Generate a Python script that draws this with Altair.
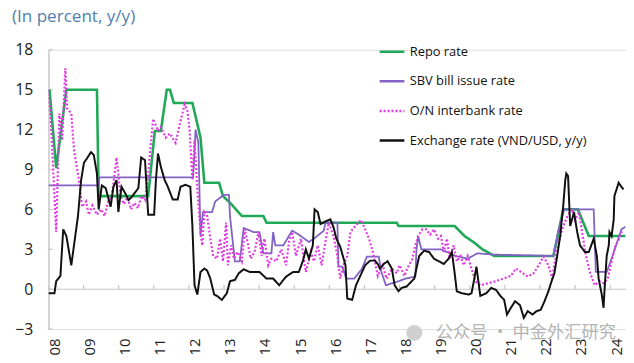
import altair as alt
import pandas as pd

series_names = ["Repo rate", "SBV bill issue rate", "O/N interbank rate", "Exchange rate (VND/USD, y/y)"]
series_colors = ["#1fa855", "#8262c2", "#e23ae2", "#111111"]
years = list(range(2008, 2025))
y_ticks = [-3, 0, 3, 6, 9, 12, 15, 18]

repo_t = [2008.03, 2008.22, 2008.51, 2009.38, 2009.43, 2010.84, 2011.03, 2011.20, 2011.37, 2011.46,
          2011.57, 2012.10, 2012.33, 2012.44, 2012.86, 2012.97, 2013.17, 2013.51, 2014.12, 2014.21,
          2017.92, 2017.97, 2019.57, 2019.85, 2020.13, 2020.36, 2020.70, 2022.38, 2022.49, 2022.66,
          2023.08, 2023.39, 2024.43]
repo_v = [15, 9.1, 15, 15, 7.0, 7.0, 11.9, 11.9, 15, 15,
          14, 14, 11.4, 8.0, 8.0, 7.0, 6.5, 5.5, 5.5, 5.0,
          5.0, 4.75, 4.75, 4.0, 3.5, 3.0, 2.5, 2.5, 3.8, 6.0,
          6.0, 4.0, 4.0]

sbv_t = [2008.00, 2009.43, 2009.45, 2012.12, 2012.19, 2012.27, 2012.33, 2012.40, 2012.66, 2012.75,
         2013.00, 2013.14, 2013.17, 2013.31, 2013.45, 2013.56, 2013.84, 2014.01, 2014.12, 2014.35,
         2014.40, 2014.46, 2014.69, 2014.94, 2015.13, 2015.42, 2015.56, 2015.84, 2015.89, 2016.23,
         2016.26, 2016.37, 2016.48, 2016.71, 2016.93, 2017.07, 2017.41, 2017.47, 2017.61, 2017.97,
         2018.17, 2018.45, 2018.48, 2018.53, 2018.62, 2019.18, 2019.60, 2019.94, 2020.22, 2020.70,
         2022.38, 2022.52, 2022.69, 2023.53, 2023.59, 2023.90, 2024.04, 2024.32, 2024.43]
sbv_v = [7.8, 7.8, 8.4, 8.4, 12.0, 11.0, 4.0, 5.8, 5.8, 6.6,
         7.1, 7.1, 5.5, 2.1, 2.1, 4.6, 4.3, 4.3, 2.7, 2.7,
         4.3, 3.3, 3.3, 4.4, 4.1, 3.55, 3.8, 4.4, 5.0, 5.0,
         1.7, 1.7, 0.8, 0.8, 1.55, 2.45, 2.45, 1.4, 0.3, 0.6,
         0.8, 0.95, 2.9, 4.0, 3.0, 3.0, 2.5, 2.3, 2.7, 2.6,
         2.5, 4.4, 6.0, 6.0, 1.3, 1.3, 2.3, 4.5, 4.7]

on_t = [2008.00, 2008.08, 2008.22, 2008.31, 2008.39, 2008.48, 2008.53, 2008.65, 2008.73, 2008.87,
        2008.96, 2009.07, 2009.15, 2009.25, 2009.38, 2009.50, 2009.60, 2009.70, 2009.80, 2009.94,
        2010.05, 2010.15, 2010.25, 2010.35, 2010.45, 2010.55, 2010.65, 2010.75, 2010.84, 2010.98,
        2011.12, 2011.20, 2011.34, 2011.46, 2011.62, 2011.74, 2011.88, 2011.96, 2012.02, 2012.10,
        2012.16, 2012.24, 2012.33, 2012.38, 2012.44, 2012.52, 2012.61, 2012.69, 2012.80, 2012.89,
        2012.97, 2013.06, 2013.11, 2013.20, 2013.28, 2013.39, 2013.51, 2013.59, 2013.67, 2013.76,
        2013.87, 2013.98, 2014.07, 2014.15, 2014.26, 2014.35, 2014.49, 2014.63, 2014.77, 2014.85,
        2014.94, 2015.05, 2015.19, 2015.33, 2015.47, 2015.56, 2015.67, 2015.78, 2015.98, 2016.12,
        2016.23, 2016.31, 2016.40, 2016.51, 2016.60, 2016.74, 2016.90, 2017.02, 2017.13, 2017.24,
        2017.38, 2017.52, 2017.63, 2017.78, 2017.92, 2018.00, 2018.14, 2018.22, 2018.37, 2018.45,
        2018.53, 2018.65, 2018.76, 2018.87, 2018.98, 2019.10, 2019.18, 2019.26, 2019.35, 2019.43,
        2019.54, 2019.63, 2019.74, 2019.83, 2019.94, 2020.05, 2020.16, 2020.30, 2020.53, 2020.75,
        2020.95, 2021.17, 2021.31, 2021.46, 2021.65, 2021.82, 2021.96, 2022.10, 2022.24, 2022.35,
        2022.41, 2022.52, 2022.63, 2022.78, 2022.92, 2023.00, 2023.11, 2023.20, 2023.31, 2023.42,
        2023.56, 2023.70, 2023.81, 2023.93, 2024.04, 2024.15, 2024.26, 2024.35]
on_v = [15, 12, 4.3, 13.2, 11.2, 16.6, 13.6, 13.2, 10.4, 8.2,
        6.2, 6.6, 5.6, 6.3, 5.6, 6.0, 5.5, 6.6, 6.9, 9.9,
        7.0, 6.4, 6.9, 6.0, 6.5, 6.1, 7.0, 6.7, 8.7, 12.8,
        11.9, 12.2, 11.4, 11.7, 11.0, 12.4, 13.9, 13.4, 11.9, 8.2,
        11.2, 7.5, 4.3, 3.3, 5.8, 5.5, 3.8, 2.5, 2.3, 3.8,
        2.1, 5.0, 1.8, 3.3, 2.3, 2.8, 2.1, 4.5, 3.55, 2.3,
        2.8, 4.3, 2.5, 3.8, 1.8, 2.3, 2.1, 3.0, 1.8, 3.55,
        4.3, 2.5, 3.8, 1.3, 2.8, 2.1, 3.3, 1.8, 5.0, 4.0,
        2.5, 0.8, 1.8, 2.5, 4.3, 4.75, 5.2, 4.5, 3.8, 2.8,
        1.0, 1.8, 0.8, 1.55, 1.2, 1.8, 1.0, 1.55, 2.3, 3.3,
        4.0, 4.5, 4.5, 4.1, 4.5, 3.8, 4.0, 2.8, 3.8, 2.3,
        3.3, 2.1, 2.5, 1.8, 2.5, 1.55, 0.6, 0.3, 0.45, 0.6,
        0.8, 1.0, 1.55, 1.3, 0.95, 1.2, 1.8, 2.45, 1.8, 0.8,
        1.9, 3.3, 4.5, 5.5, 6.0, 5.2, 5.8, 4.3, 2.5, 1.3,
        0.3, 0.6, 0.45, 0.8, 2.1, 3.3, 3.8, 4.5]

fx_t = [2008.00, 2008.17, 2008.22, 2008.34, 2008.42, 2008.51, 2008.65, 2008.84, 2008.93, 2009.01,
        2009.10, 2009.21, 2009.29, 2009.38, 2009.43, 2009.52, 2009.63, 2009.77, 2009.85, 2009.94,
        2009.99, 2010.08, 2010.19, 2010.28, 2010.36, 2010.56, 2010.64, 2010.75, 2010.84, 2011.01,
        2011.06, 2011.12, 2011.20, 2011.31, 2011.40, 2011.54, 2011.68, 2011.76, 2011.90, 2012.04,
        2012.10, 2012.16, 2012.24, 2012.33, 2012.44, 2012.52, 2012.61, 2012.72, 2012.80, 2012.94,
        2013.08, 2013.17, 2013.31, 2013.42, 2013.56, 2013.73, 2014.01, 2014.21, 2014.40, 2014.57,
        2014.77, 2014.97, 2015.13, 2015.25, 2015.33, 2015.42, 2015.53, 2015.58, 2015.67, 2015.75,
        2015.89, 2016.03, 2016.12, 2016.20, 2016.31, 2016.46, 2016.51, 2016.65, 2016.76, 2016.88,
        2017.02, 2017.16, 2017.30, 2017.38, 2017.44, 2017.55, 2017.66, 2017.78, 2017.86, 2017.97,
        2018.06, 2018.20, 2018.42, 2018.56, 2018.70, 2018.84, 2018.98, 2019.12, 2019.26, 2019.40,
        2019.49, 2019.57, 2019.63, 2019.77, 2019.97, 2020.05, 2020.13, 2020.19, 2020.30, 2020.47,
        2020.61, 2020.75, 2020.87, 2020.98, 2021.06, 2021.17, 2021.29, 2021.43, 2021.54, 2021.65,
        2021.79, 2021.90, 2022.02, 2022.13, 2022.24, 2022.33, 2022.41, 2022.49, 2022.58, 2022.66,
        2022.72, 2022.75, 2022.80, 2022.86, 2022.97, 2023.06, 2023.14, 2023.28, 2023.39, 2023.53,
        2023.62, 2023.67, 2023.76, 2023.81, 2023.84, 2023.90, 2023.96, 2023.98, 2024.04, 2024.10,
        2024.12, 2024.24, 2024.32, 2024.38]
fx_v = [-0.3, -0.3, 0.6, 1.0, 4.5, 4.0, 1.8, 5.5, 8.2, 9.5,
        9.85, 10.3, 10.1, 8.7, 6.0, 7.8, 7.6, 6.2, 7.7, 8.2,
        5.8, 7.7, 7.2, 6.7, 6.9, 7.6, 9.9, 9.7, 5.6, 5.6,
        8.2, 10.2, 9.2, 8.2, 7.7, 6.75, 6.75, 7.7, 7.85, 7.7,
        4.7, 0.3, -0.4, 1.3, 1.55, 1.4, 0.8, -0.4, -0.5, -0.8,
        -0.3, 0.6, 0.7, 1.2, 1.5, 1.3, 1.3, 0.8, 0.8, 0.3,
        0.95, 1.3, 1.3, 2.15, 3.0, 2.3, 3.3, 6.0, 5.8, 4.9,
        5.1, 5.25, 4.65, 3.8, 3.2, 1.8, -0.7, -0.8, 0.3, 1.0,
        1.8, 2.15, 2.15, 1.9, 1.55, 1.9, 2.1, 1.55, 0.3, -0.15,
        0.1, 0.2, 0.8, 2.5, 2.9, 2.8, 2.3, 2.1, 1.9, 2.3,
        2.8, 1.2, -0.15, -0.3, -0.4, -0.3, 0.8, 1.7, -0.5, -0.3,
        0.1, -0.05, -0.5, -0.8, -1.9, -1.4, -0.9, -1.2, -2.15, -1.65,
        -1.9, -1.65, -1.55, -0.9, -0.15, 0.6, 1.2, 2.5, 4.1, 6.2,
        8.2, 8.7, 8.5, 4.75, 5.8, 4.3, 3.3, 2.8, 2.8, 3.8,
        2.5, 0.8, -0.4, -1.4, 0.0, 2.5, 3.3, 4.3, 4.0, 5.25,
        7.0, 8.0, 7.7, 7.5]

series_t = [repo_t, sbv_t, on_t, fx_t]
series_v = [repo_v, sbv_v, on_v, fx_v]
series_width = [2.6, 1.8, 2.2, 2.0]

rows = []
for name, ts, vs in zip(series_names, series_t, series_v):
    for i, (t, v) in enumerate(zip(ts, vs)):
        rows.append({"series": name, "t": t, "v": v, "i": i})
df = pd.DataFrame(rows)

FONT = "Open Sans"
x_scale = alt.Scale(domain=[2008, 2024.45], nice=False, zero=False)
y_scale = alt.Scale(domain=[-3, 18], nice=False, zero=False)

x_axis = alt.Axis(
    values=years, labelExpr="substring(toString(datum.value), 2, 4)",
    labelAngle=270, domain=False, ticks=False, grid=False, title=None,
    labelFontSize=15, labelFont=FONT, labelColor="#222222", labelPadding=9,
    labelOffset=6, labelOverlap=False, labelFlush=False)
y_axis = alt.Axis(
    values=y_ticks, domain=True, domainColor="#c4c4c4", domainWidth=1.2,
    ticks=False, grid=False, title=None, labelFontSize=16, labelFont=FONT,
    labelColor="#222222", labelPadding=16)

legend = alt.Legend(
    title=None, orient="none", legendX=334, legendY=-12,
    symbolType="stroke", symbolSize=625, symbolStrokeWidth=2.5,
    labelFontSize=13, labelFont=FONT, labelColor="#111111", labelLimit=400,
    rowPadding=9, padding=0, labelOffset=4,
)
color = alt.Color("series:N", scale=alt.Scale(domain=series_names, range=series_colors), legend=legend)
dash = alt.StrokeDash("series:N",
                      scale=alt.Scale(domain=series_names, range=[[1, 0], [1, 0], [2, 2], [1, 0]]),
                      legend=legend)

x_enc = alt.X("t:Q", scale=x_scale, axis=x_axis)
y_enc = alt.Y("v:Q", scale=y_scale, axis=y_axis)

zero_df = pd.DataFrame({"a": [2008.0], "b": [2024.45], "v": [0.0]})
zero_line = alt.Chart(zero_df).mark_rule(color="#c4c4c4", strokeWidth=1.2).encode(
    x=alt.X("a:Q", scale=x_scale, axis=x_axis), x2="b:Q", y=alt.Y("v:Q", scale=y_scale, axis=y_axis))

year_df = pd.DataFrame({"t": years, "v0": [0.0] * len(years), "v1": [0.32] * len(years)})
year_ticks = alt.Chart(year_df).mark_rule(color="#c4c4c4", strokeWidth=1.2).encode(
    x=alt.X("t:Q", scale=x_scale, axis=x_axis), y=alt.Y("v0:Q", scale=y_scale, axis=y_axis), y2="v1:Q")

ytick_df = pd.DataFrame({"a": [2008.0] * len(y_ticks), "b": [2008.12] * len(y_ticks), "v": y_ticks})
y_marks = alt.Chart(ytick_df).mark_rule(color="#c4c4c4", strokeWidth=1.2).encode(
    x=alt.X("a:Q", scale=x_scale, axis=x_axis), x2="b:Q", y=alt.Y("v:Q", scale=y_scale, axis=y_axis))

line_layers = []
for name, w in zip(series_names, series_width):
    line_layers.append(
        alt.Chart(df).transform_filter(alt.datum.series == name)
        .mark_line(strokeWidth=w, clip=True)
        .encode(x=x_enc, y=y_enc, color=color, strokeDash=dash, order="i:Q")
    )

wm_df = pd.DataFrame({"t": [2019.03], "v": [-3.28], "label": ["公众号 · 中金外汇研究"]})
wm_text = alt.Chart(wm_df).mark_text(
    align="left", baseline="middle", fontSize=17.5, font="Noto Sans CJK SC",
    color="#a8a8a8", opacity=0.85).encode(
    x=alt.X("t:Q", scale=x_scale, axis=x_axis), y=alt.Y("v:Q", scale=y_scale, axis=y_axis), text="label:N")
icon_df = pd.DataFrame({"t": [2018.42], "v": [-3.28]})
wm_icon = alt.Chart(icon_df).mark_point(
    shape="circle", filled=True, size=260, color="#c8c8c8", opacity=0.85).encode(
    x=alt.X("t:Q", scale=x_scale, axis=x_axis), y=alt.Y("v:Q", scale=y_scale, axis=y_axis))

chart = alt.layer(zero_line, year_ticks, y_marks, *line_layers, wm_icon, wm_text).properties(
    width=585, height=283,
    autosize=alt.AutoSizeParams(type="none"),
    padding={"left": 41, "top": 40, "right": 0, "bottom": 32},
    title=alt.TitleParams("(In percent, y/y)", anchor="start", frame="group", dx=-37,
                          fontSize=17.3, font=FONT, color="#4f80ad", fontWeight="normal",
                          baseline="top", offset=13),
).configure_view(stroke=None).configure(background="white")

chart.save("out.html", embed_options={"renderer": "svg", "actions": False})
